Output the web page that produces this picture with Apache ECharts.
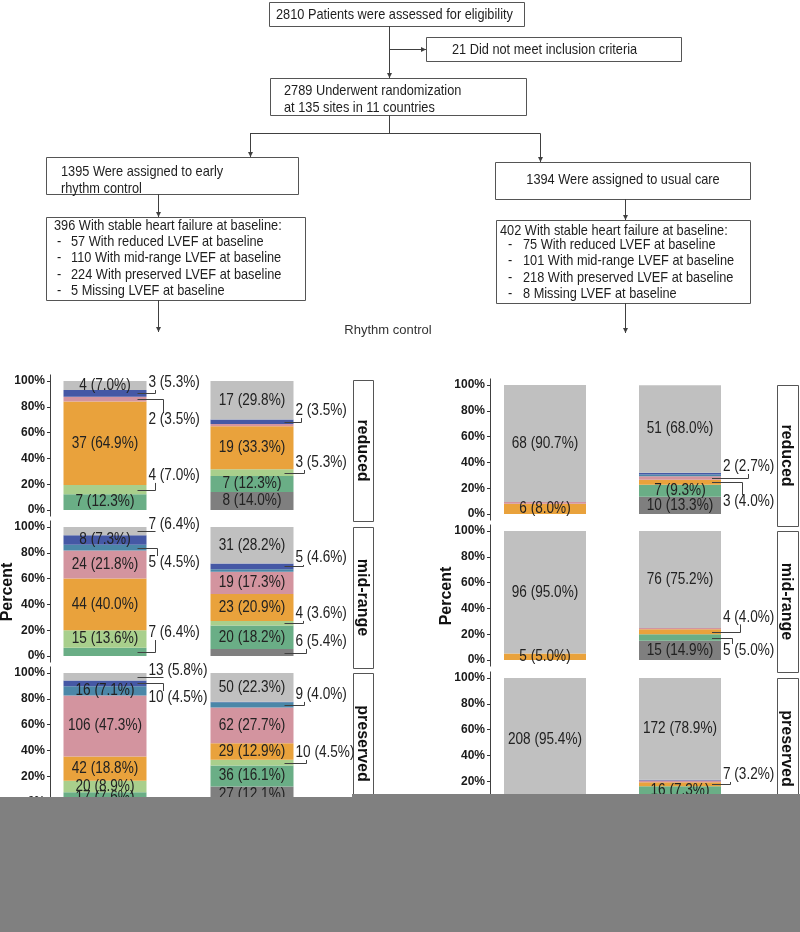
<!DOCTYPE html>
<html><head><meta charset="utf-8">
<script src="https://cdn.jsdelivr.net/npm/echarts@6/dist/echarts.min.js"></script>
<style>html,body{margin:0;padding:0;background:#fff}#c{width:800px;height:932px}</style>
</head><body><div id="c"></div>
<script>
// ---------------- DATA ----------------
const segmentNames = ['Dark grey','Green','Light green','Orange','Pink','Steel blue','Dark blue','Light grey'];
const barNames = ['Bar 1','Bar 2'];
const lvefGroups = ['reduced','mid-range','preserved'];
const tickValues = [0,20,40,60,80,100];
const tickLabels = ['0%','20%','40%','60%','80%','100%'];
const yTitle = 'Percent';
const middleTitle = 'Rhythm control';

// counts per segment (bottom -> top), early rhythm control (left)
const rhythmReducedBar1 = [0,7,4,37,2,0,3,4];
const rhythmReducedBar2 = [8,7,3,19,1,0,2,17];
const rhythmMidBar1     = [0,7,15,44,24,5,8,7];
const rhythmMidBar2     = [6,20,4,23,19,2,5,31];
const rhythmPresBar1    = [0,17,20,42,106,16,10,13];
const rhythmPresBar2    = [27,36,10,29,62,9,1,50];
// usual care (right)
const usualReducedBar1  = [0,0,0,6,1,0,0,68];
const usualReducedBar2  = [10,7,0,3,2,1,1,51];
const usualMidBar1      = [0,0,0,5,0,0,0,96];
const usualMidBar2      = [15,5,0,4,1,0,0,76];
const usualPresBar1     = [0,0,0,10,0,0,0,208];
const usualPresBar2     = [19,16,0,7,3,0,1,172];

// percentages as printed
const rhythmReducedPct1 = [0,12.3,7.0,64.9,3.5,0,5.3,7.0];
const rhythmReducedPct2 = [14.0,12.3,5.3,33.3,1.8,0,3.5,29.8];
const rhythmMidPct1     = [0,6.4,13.6,40.0,21.8,4.5,7.3,6.4];
const rhythmMidPct2     = [5.4,18.2,3.6,20.9,17.3,1.8,4.6,28.2];
const rhythmPresPct1    = [0,7.6,8.9,18.8,47.3,7.1,4.5,5.8];
const rhythmPresPct2    = [12.1,16.1,4.5,12.9,27.7,4.0,0.4,22.3];
const usualReducedPct1  = [0,0,0,8.0,1.3,0,0,90.7];
const usualReducedPct2  = [13.3,9.3,0,4.0,2.7,1.3,1.3,68.0];
const usualMidPct1      = [0,0,0,5.0,0,0,0,95.0];
const usualMidPct2      = [14.9,5.0,0,4.0,1.0,0,0,75.2];
const usualPresPct1     = [0,0,0,4.6,0,0,0,95.4];
const usualPresPct2     = [8.7,7.3,0,3.2,1.4,0,0.5,78.9];

// flowchart texts
const txtScreened = '2810 Patients were assessed for eligibility';
const txtExcluded = '21 Did not meet inclusion criteria';
const txtRandomized = ['2789 Underwent randomization','at 135 sites in 11 countries'];
const txtArmEarly = ['1395 Were assigned to early','rhythm control'];
const txtArmUsual = '1394 Were assigned to usual care';
const txtHfEarlyHead = '396 With stable heart failure at baseline:';
const txtHfEarlyItems = ['57 With reduced LVEF at baseline','110 With mid-range LVEF at baseline','224 With preserved LVEF at baseline','5 Missing LVEF at baseline'];
const txtHfUsualHead = '402 With stable heart failure at baseline:';
const txtHfUsualItems = ['75 With reduced LVEF at baseline','101 With mid-range LVEF at baseline','218 With preserved LVEF at baseline','8 Missing LVEF at baseline'];

// ---------------- STYLE / LAYOUT ----------------
const segColors = ['#7f7f7f','#6aae86','#a9cf8c','#e9a23c','#d3949f','#4b87a8','#4558a5','#c0c0c0'];
const SANS = '"Liberation Sans",Arial,sans-serif';
const sides = {
  left:  {gridLeft:31.5, gridWidth:294, axisX:50.5, barWidth:83, tops:[381,527,673], stripX:353, stripW:20, stripTops:[380,527,673], stripTextX:362, titleX:8, titleY:592},
  right: {gridLeft:477.5, gridWidth:270, axisX:490.5, barWidth:82, tops:[385,531,678], stripX:777, stripW:21, stripTops:[385,531,678], stripTextX:786, titleX:447, titleY:596}
};
const PANEL_H = 129;
const STRIP_H = 141;

const panels = [
  {side:'left', row:0, counts:[rhythmReducedBar1,rhythmReducedBar2], pcts:[rhythmReducedPct1,rhythmReducedPct2]},
  {side:'left', row:1, counts:[rhythmMidBar1,rhythmMidBar2], pcts:[rhythmMidPct1,rhythmMidPct2]},
  {side:'left', row:2, counts:[rhythmPresBar1,rhythmPresBar2], pcts:[rhythmPresPct1,rhythmPresPct2]},
  {side:'right', row:0, counts:[usualReducedBar1,usualReducedBar2], pcts:[usualReducedPct1,usualReducedPct2]},
  {side:'right', row:1, counts:[usualMidBar1,usualMidBar2], pcts:[usualMidPct1,usualMidPct2]},
  {side:'right', row:2, counts:[usualPresBar1,usualPresBar2], pcts:[usualPresPct1,usualPresPct2]}
];

// labels inside segments: [panel, bar, segment]
const inLabels = [
 [0,0,1],[0,0,3],[0,0,7],
 [0,1,0],[0,1,1],[0,1,3],[0,1,7],
 [1,0,2],[1,0,3],[1,0,4],[1,0,6],
 [1,1,1],[1,1,3],[1,1,4],[1,1,7],
 [2,0,1],[2,0,2],[2,0,3],[2,0,4],[2,0,5],
 [2,1,0],[2,1,1],[2,1,3],[2,1,4],[2,1,7],
 [3,0,3],[3,0,7],
 [3,1,0],[3,1,1],[3,1,7],
 [4,0,3],[4,0,7],
 [4,1,0],[4,1,7],
 [5,0,3],[5,0,7],
 [5,1,0],[5,1,1],[5,1,7]
];
// labels outside with leader: [panel, bar, segment, label position on axis, elbow offset px]
const outLabels = [
 [0,0,2,26.4,8],[0,0,4,69.8,16],[0,0,6,98.4,8],
 [0,1,2,36.4,10],[0,1,6,76.7,7],
 [1,0,1,17.8,8],[1,0,5,72.1,10],[1,0,7,101.5,8],
 [1,1,0,10.9,12],[1,1,2,32.6,9],[1,1,6,76,9],
 [2,0,6,80.6,16],[2,0,7,101.6,16],
 [2,1,2,38,12],[2,1,5,83,10],
 [3,1,3,9.3,21],[3,1,4,36.4,27],
 [4,1,1,7,11],[4,1,3,33,19],
 [5,1,3,24.8,9]
];

function labelText(p,b,s){
  return panels[p].counts[b][s] + ' (' + panels[p].pcts[b][s].toFixed(1) + '%)';
}

// ---------------- OPTION ----------------
const grid=[], xAxis=[], yAxis=[], series=[];
panels.forEach((pn,p)=>{
  const L = sides[pn.side];
  grid.push({left:L.gridLeft, top:L.tops[pn.row], width:L.gridWidth, height:PANEL_H, containLabel:false});
  xAxis.push({type:'category', gridIndex:p, data:barNames, show:false});
  yAxis.push({type:'value', gridIndex:p, min:0, max:100, interval:20,
    offset: L.gridLeft - L.axisX + 0.5,
    axisLine:{show:false}, splitLine:{show:false},
    axisTick:{show:true, length:3, lineStyle:{color:'#333', width:1}},
    axisLabel:{show:true, margin:5, fontWeight:'bold', fontSize:12, fontFamily:SANS, color:'#1a1a1a',
      formatter:(v)=>tickLabels[tickValues.indexOf(v)]}
  });
  segmentNames.forEach((nm,s)=>{
    series.push({
      type:'bar', name:nm, xAxisIndex:p, yAxisIndex:p, stack:'st'+p, barWidth:L.barWidth,
      itemStyle:{color:segColors[s]},
      data:[0,1].map(b=>pn.pcts[b][s])
    });
  });
});

const chart = echarts.init(document.getElementById('c'), null, {renderer:'canvas'});
chart.setOption({animation:false, backgroundColor:'#fff', grid, xAxis, yAxis, series});

// ---------------- GRAPHICS ----------------
const G = [];
const LINE = '#404040';
function txt(x,y,t,font,opts){
  opts = opts||{};
  G.push({type:'text', x:x, y:y, z:60, rotation:opts.rot||0, scaleX:opts.sx||1,
    style:{text:t, font:font, fill:opts.fill||'#222',
      align:opts.align||'left', textAlign:opts.align||'left',
      verticalAlign:'middle', textVerticalAlign:'middle'}});
}
function rect(x,y,w,h,z){
  G.push({type:'rect', z:z||40, shape:{x:x+0.5,y:y+0.5,width:w,height:h}, style:{fill:'#fff', stroke:'#555', lineWidth:1}});
}
function line(pts,z){
  G.push({type:'polyline', z:z||60, shape:{points:pts}, style:{stroke:LINE, lineWidth:1, fill:null}});
}
function arrow(x1,y1,x2,y2){
  line([[x1,y1],[x2,y2]]);
  const dx=x2-x1, dy=y2-y1, len=Math.hypot(dx,dy), ux=dx/len, uy=dy/len;
  const bx=x2-ux*5, by=y2-uy*5;
  G.push({type:'polygon', z:61, shape:{points:[[x2,y2],[bx-uy*2.5,by+ux*2.5],[bx+uy*2.5,by-ux*2.5]]}, style:{fill:LINE}});
}
const FL = '14.5px ' + SANS;
const FSX = 0.88;
function ft(x,y,t,opts){ txt(x,y,t,FL,Object.assign({sx:FSX, fill:'#1e1e1e'},opts||{})); }

// flowchart
rect(269,2,255,24); ft(276,14.5,txtScreened);
arrow(389.5,26,389.5,78);
arrow(389.5,49.5,426,49.5);
rect(426,37,255,24); ft(452,49.5,txtExcluded);
rect(270,78,256,37); ft(284,91,txtRandomized[0]); ft(284,108,txtRandomized[1]);
line([[389.5,115],[389.5,133.5]]);
line([[250,133.5],[540.5,133.5]]);
arrow(250.5,133.5,250.5,157);
arrow(540.5,133.5,540.5,162);
rect(46,157,252,37); ft(61,172,txtArmEarly[0]); ft(61,188.5,txtArmEarly[1]);
arrow(158.5,194,158.5,217);
rect(46,217,259,83); ft(54,225.5,txtHfEarlyHead);
txtHfEarlyItems.forEach((t,i)=>{ const y=[241.5,258,274.5,291][i]; ft(57,y,'-'); ft(71,y,t); });
arrow(158.5,300,158.5,332);
rect(495,162,255,37); ft(623,180,txtArmUsual,{align:'center'});
arrow(625.5,199,625.5,220);
rect(496,220,254,83); ft(500,230.5,txtHfUsualHead);
txtHfUsualItems.forEach((t,i)=>{ const y=[244.5,261,277.5,294][i]; ft(508,y,'-'); ft(523,y,t); });
arrow(625.5,303,625.5,333);
txt(388,330,middleTitle,'13px '+SANS,{align:'center', fill:'#333'});

// panel decorations
panels.forEach((pn,p)=>{
  const L = sides[pn.side];
  const top = L.tops[pn.row];
  line([[L.axisX, top-6.5],[L.axisX, top+PANEL_H+6.5]], 30);
  rect(L.stripX, L.stripTops[pn.row], L.stripW, STRIP_H, 30);
  txt(L.stripTextX, L.stripTops[pn.row]+STRIP_H/2, lvefGroups[pn.row], 'bold 16px '+SANS, {align:'center', rot:-Math.PI/2, fill:'#111'});
});
txt(sides.left.titleX, sides.left.titleY, yTitle, 'bold 16px '+SANS, {align:'center', rot:Math.PI/2, fill:'#111'});
txt(sides.right.titleX, sides.right.titleY, yTitle, 'bold 16px '+SANS, {align:'center', rot:Math.PI/2, fill:'#111'});

// bar labels
const BL = '16px ' + SANS, BSX = 0.85;
function segCenter(p,b,s){
  const pn = panels[p];
  const cum = pn.pcts[b].slice(0,s).reduce((a,c)=>a+c,0);
  return chart.convertToPixel({xAxisIndex:p, yAxisIndex:p}, [b, cum + pn.pcts[b][s]/2]);
}
inLabels.forEach(([p,b,s])=>{
  const c = segCenter(p,b,s);
  txt(c[0], c[1], labelText(p,b,s), BL, {align:'center', sx:BSX, fill:'#222'});
});
outLabels.forEach(([p,b,s,ly,dx])=>{
  const L = sides[panels[p].side];
  const c = segCenter(p,b,s);
  const l = chart.convertToPixel({xAxisIndex:p, yAxisIndex:p}, [b, ly]);
  const barRight = c[0] + L.barWidth/2;
  const segY = Math.round(c[1])+0.5, labY = l[1];
  const ex = Math.round(barRight + dx)+0.5;
  let pts = [[barRight-9, segY],[ex, segY]];
  if (Math.abs(segY-labY) > 7) pts.push([ex, labY + (segY>labY ? 7 : -7)]);
  line(pts, 55);
  txt(barRight+2, labY, labelText(p,b,s), BL, {sx:BSX, fill:'#222'});
});

// grey cover over the lower part
G.push({type:'rect', z:100, shape:{x:0,y:797,width:352,height:135}, style:{fill:'#808080'}});
G.push({type:'rect', z:100, shape:{x:352,y:794,width:448,height:138}, style:{fill:'#808080'}});

chart.setOption({graphic:{elements:G}});
</script></body></html>
